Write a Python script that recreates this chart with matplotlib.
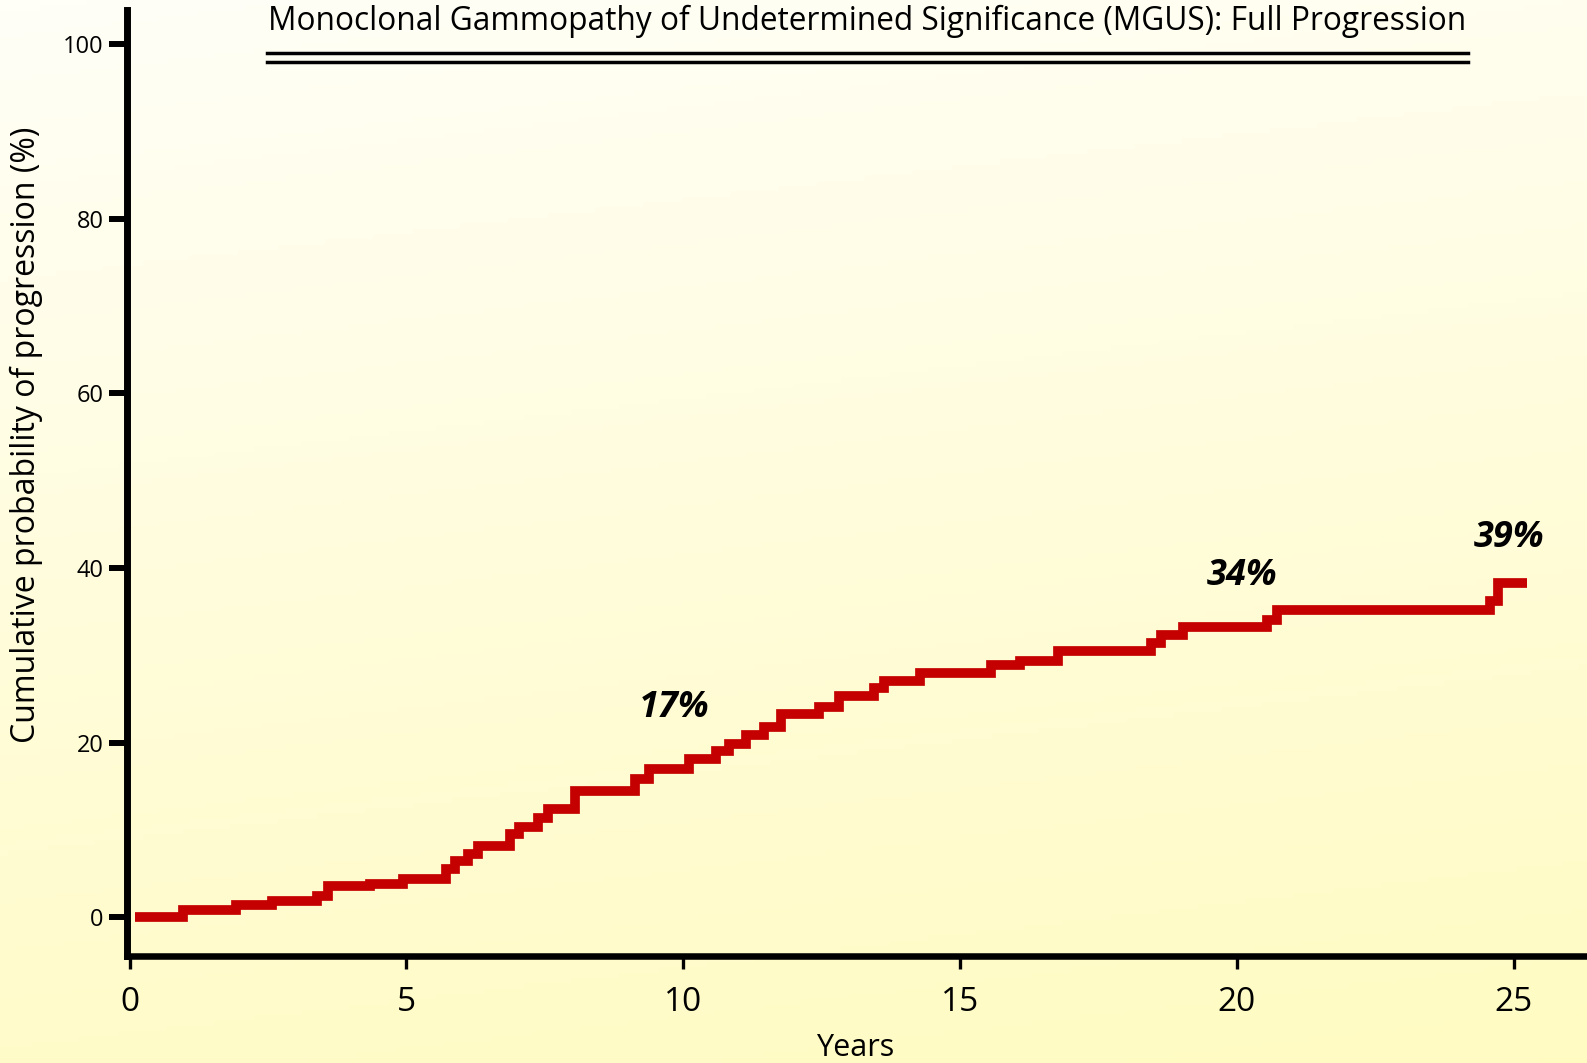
import numpy as np
import matplotlib
matplotlib.use("Agg")
import matplotlib.pyplot as plt
from matplotlib.lines import Line2D
from matplotlib.colors import LinearSegmentedColormap

plt.rcParams['font.family'] = ['Open Sans', 'DejaVu Sans']

# step times (years) and cumulative progression (%)
years = [0.1, 0.96, 1.93, 2.57, 3.38, 3.59, 4.34, 4.94, 5.72, 5.88, 6.12, 6.30,
         6.87, 7.04, 7.38, 7.55, 8.05, 9.13, 9.38, 10.11, 10.59, 10.83, 11.13,
         11.46, 11.77, 12.46, 12.82, 13.45, 13.62, 14.28, 15.57, 16.08, 16.78,
         18.46, 18.64, 19.03, 20.54, 20.72, 24.57, 24.72, 25.24]
progression = [0.0, 0.83, 1.36, 1.86, 2.46, 3.61, 3.84, 4.41, 5.49, 6.44, 7.2,
               8.16, 9.5, 10.3, 11.33, 12.4, 14.43, 15.84, 16.95, 18.13, 19.04,
               19.85, 20.88, 21.83, 23.28, 24.12, 25.3, 26.3, 27.1, 28.02, 28.9,
               29.39, 30.54, 31.38, 32.34, 33.29, 34.06, 35.2, 36.23, 38.33, 38.33]

annot_text = ["17%", "34%", "39%"]
annot_x = [9.83, 20.09, 24.92]
annot_y = [23.9, 39.1, 43.4]

x_ticks = [0, 5, 10, 15, 20, 25]
y_ticks = [0, 20, 40, 60, 80, 100]

title = "Monoclonal Gammopathy of Undetermined Significance (MGUS): Full Progression"

fig = plt.figure(figsize=(15.87, 10.63), dpi=100)

# background gradient
bg = fig.add_axes([0, 0, 1, 1], zorder=-10)
cmap = LinearSegmentedColormap.from_list("bg", [(1.0, 0.985, 0.76), (1.0, 0.99, 0.86), (1.0, 1.0, 0.97)])
gy, gx = np.mgrid[0:1:200j, 0:1:200j]
grad = 0.85 * gy + 0.15 * (1 - gx)
bg.imshow(grad, cmap=cmap, origin="lower", aspect="auto", extent=[0, 1, 0, 1])
bg.axis("off")

ax = fig.add_axes([0.0803, 0.101, 0.9177, 0.8895])
ax.patch.set_alpha(0)

ax.step(years, progression, where="post", color="#C50000", lw=7,
        solid_capstyle="butt", solid_joinstyle="miter")

for t, x, y in zip(annot_text, annot_x, annot_y):
    ax.text(x, y, t, ha="center", va="center", fontsize=26,
            fontweight="bold", fontstyle="italic")

ax.set_xlim(-0.038, 26.27)
ax.set_ylim(-4.41, 103.9)

for s in ["top", "right"]:
    ax.spines[s].set_visible(False)
ax.spines["left"].set_linewidth(5)
ax.spines["bottom"].set_linewidth(4.7)

ax.set_xticks(x_ticks)
ax.set_yticks(y_ticks)
ax.tick_params(axis="x", direction="out", length=9, width=2.4, pad=13, labelsize=24)
ax.tick_params(axis="y", direction="out", length=13, width=4.3, pad=4, labelsize=17)

ax.set_ylabel("Cumulative probability of progression (%)", fontsize=23)
ax.yaxis.set_label_coords(-0.058, 0.551)
ax.set_xlabel("Years", fontsize=22)
ax.xaxis.set_label_coords(0.50, -0.0813)

fig.text(268 / 1587, 1 - 30 / 1063, title, ha="left", va="baseline", fontsize=22.8)
for yy in [53.3, 62.0]:
    fig.add_artist(Line2D([267 / 1587, 1468 / 1587], [1 - yy / 1063, 1 - yy / 1063],
                          color="black", lw=2.5))

fig.savefig("out.png", dpi=100)
